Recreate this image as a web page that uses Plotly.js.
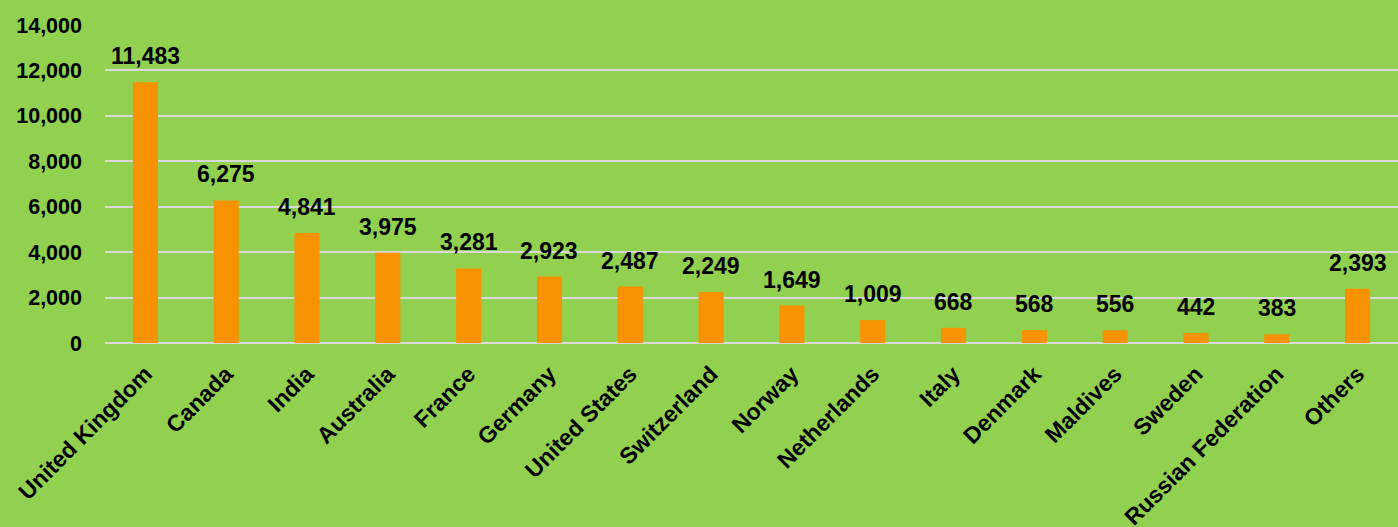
<!DOCTYPE html>
<html><head><meta charset="utf-8">
<script src="https://cdn.plot.ly/plotly-3.0.1.min.js"></script>
<style>html,body{margin:0;padding:0;background:#92D050;}#chart{width:1398px;height:527px;}</style>
</head><body><div id="chart"></div>
<script>
const categories = ["United Kingdom","Canada","India","Australia","France","Germany","United States","Switzerland","Norway","Netherlands","Italy","Denmark","Maldives","Sweden","Russian Federation","Others"];
const values = [11483,6275,4841,3975,3281,2923,2487,2249,1649,1009,668,568,556,442,383,2393];
const yTicks = [0,2000,4000,6000,8000,10000,12000,14000];

const bold = {family:"Liberation Sans, Arial, sans-serif", color:"#000", weight:"bold"};
const annotations = categories.map((c,i)=>({
  x:c, y:values[i], xref:"x", yref:"y", yanchor:"bottom", yshift:11,
  text: values[i].toLocaleString("en-US"), showarrow:false,
  font: Object.assign({}, bold, {size:23})
}));

Plotly.newPlot("chart",[{
  type:"bar", x:categories, y:values,
  marker:{color:"#F79200"}, hoverinfo:"skip"
}],{
  width:1398, height:527,
  paper_bgcolor:"#92D050", plot_bgcolor:"#92D050",
  margin:{l:105, r:0, t:25, b:184},
  bargap:0.69, showlegend:false,
  xaxis:{type:"category", tickangle:-45, showgrid:false, zeroline:false, showline:false,
         ticks:"", ticklabelstandoff:12, tickfont:Object.assign({}, bold, {size:23})},
  yaxis:{range:[0,14000], tickvals:yTicks, tickformat:",d", showgrid:true, gridcolor:"#D9D9D9", gridwidth:2,
         zeroline:true, zerolinecolor:"#D9D9D9", zerolinewidth:2, showline:false, ticks:"",
         ticklabelstandoff:22, tickfont:Object.assign({}, bold, {size:21.5})},
  annotations:annotations
},{displayModeBar:false, staticPlot:true});
</script></body></html>
